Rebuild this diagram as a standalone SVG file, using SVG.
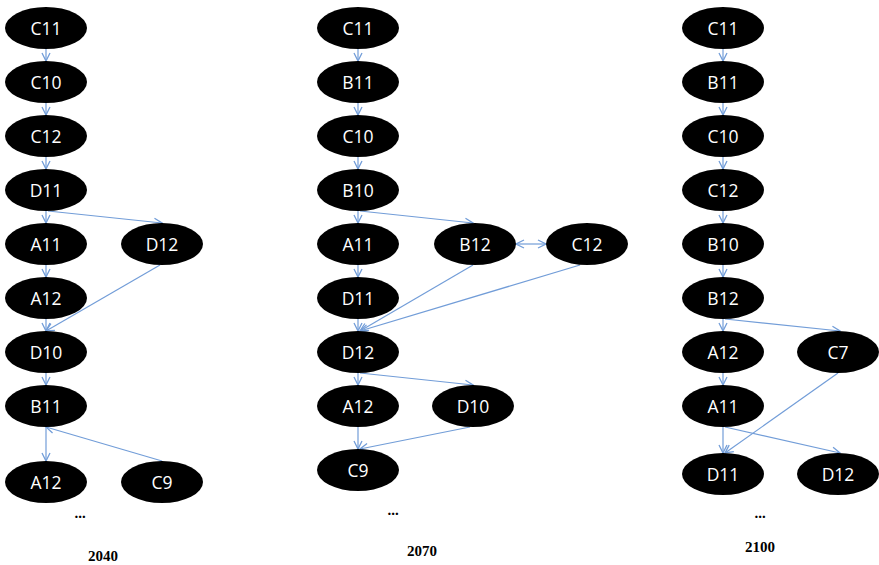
<svg xmlns="http://www.w3.org/2000/svg" width="879" height="565" viewBox="0 0 879 565">
  <style>
    .node ellipse { fill: #000; }
    .node text { fill: #fff; font-family: "Open Sans", "Liberation Sans", sans-serif; font-size: 17.5px; text-anchor: middle; dominant-baseline: central; }
    .edges line { stroke: #729dd8; stroke-width: 1.2; fill: none; marker-end: url(#arrow); }
    .edges line.both { marker-start: url(#arrowStart); }
    .label { font-family: "Liberation Serif", serif; font-weight: bold; font-size: 15px; text-anchor: middle; fill: #000; }
  </style>
  <defs>
    <marker id="arrow" viewBox="0 0 10 10" refX="9" refY="5" markerWidth="10" markerHeight="10" markerUnits="userSpaceOnUse" orient="auto">
      <path d="M1,1 L9,5 L1,9" fill="none" stroke="#729dd8" stroke-width="1.3"/>
    </marker>
    <marker id="arrowStart" viewBox="0 0 10 10" refX="1" refY="5" markerWidth="10" markerHeight="10" markerUnits="userSpaceOnUse" orient="auto">
      <path d="M9,1 L1,5 L9,9" fill="none" stroke="#729dd8" stroke-width="1.3"/>
    </marker>
  </defs>
  <rect width="879" height="565" fill="#fff"/>

  <!-- connectors -->
  <g id="edges" class="edges">
    <!-- 2040 -->
    <line x1="46" y1="49" x2="46" y2="61"/>
    <line x1="46" y1="103" x2="46" y2="115"/>
    <line x1="46" y1="157" x2="46" y2="169"/>
    <line x1="46" y1="211" x2="46" y2="223"/>
    <line x1="46" y1="265" x2="46" y2="277"/>
    <line x1="46" y1="319" x2="46" y2="331"/>
    <line x1="46" y1="373" x2="46" y2="385"/>
    <line x1="46" y1="427" x2="46" y2="461"/>
    <line x1="48" y1="211" x2="162" y2="223"/>
    <line x1="160" y1="265" x2="46" y2="331"/>
    <line x1="162" y1="461" x2="46" y2="427"/>
    <!-- 2070 -->
    <line x1="358" y1="49" x2="358" y2="61"/>
    <line x1="358" y1="103" x2="358" y2="115"/>
    <line x1="358" y1="157" x2="358" y2="169"/>
    <line x1="358" y1="211" x2="358" y2="223"/>
    <line x1="358" y1="265" x2="358" y2="277"/>
    <line x1="358" y1="319" x2="358" y2="331"/>
    <line x1="358" y1="373" x2="358" y2="385"/>
    <line x1="358" y1="427" x2="358" y2="449"/>
    <line x1="360" y1="211" x2="473" y2="223"/>
    <line class="both" x1="516" y1="244" x2="546" y2="244"/>
    <line x1="473" y1="265" x2="360" y2="331"/>
    <line x1="580" y1="265" x2="360" y2="331"/>
    <line x1="360" y1="373" x2="473" y2="385"/>
    <line x1="470" y1="427" x2="360" y2="449"/>
    <!-- 2100 -->
    <line x1="723" y1="49" x2="723" y2="61"/>
    <line x1="723" y1="103" x2="723" y2="115"/>
    <line x1="723" y1="157" x2="723" y2="169"/>
    <line x1="723" y1="211" x2="723" y2="223"/>
    <line x1="723" y1="265" x2="723" y2="277"/>
    <line x1="723" y1="319" x2="723" y2="331"/>
    <line x1="723" y1="373" x2="723" y2="385"/>
    <line x1="723" y1="427" x2="723" y2="453"/>
    <line x1="725" y1="319" x2="840" y2="331"/>
    <line x1="725" y1="427" x2="840" y2="453"/>
    <line x1="838" y1="373" x2="725" y2="453"/>
  </g>

  <!-- 2040 nodes -->
  <g id="n2040_C11" class="node"><ellipse cx="46" cy="28" rx="41" ry="21"/><text x="46" y="28">C11</text></g>
  <g id="n2040_C10" class="node"><ellipse cx="46" cy="82" rx="41" ry="21"/><text x="46" y="82">C10</text></g>
  <g id="n2040_C12" class="node"><ellipse cx="46" cy="136" rx="41" ry="21"/><text x="46" y="136">C12</text></g>
  <g id="n2040_D11" class="node"><ellipse cx="46" cy="190" rx="41" ry="21"/><text x="46" y="190">D11</text></g>
  <g id="n2040_A11" class="node"><ellipse cx="46" cy="244" rx="41" ry="21"/><text x="46" y="244">A11</text></g>
  <g id="n2040_D12" class="node"><ellipse cx="162" cy="244" rx="41" ry="21"/><text x="162" y="244">D12</text></g>
  <g id="n2040_A12" class="node"><ellipse cx="46" cy="298" rx="41" ry="21"/><text x="46" y="298">A12</text></g>
  <g id="n2040_D10" class="node"><ellipse cx="46" cy="352" rx="41" ry="21"/><text x="46" y="352">D10</text></g>
  <g id="n2040_B11" class="node"><ellipse cx="46" cy="406" rx="41" ry="21"/><text x="46" y="406">B11</text></g>
  <g id="n2040_A12b" class="node"><ellipse cx="46" cy="482" rx="41" ry="21"/><text x="46" y="482">A12</text></g>
  <g id="n2040_C9" class="node"><ellipse cx="162" cy="482" rx="41" ry="21"/><text x="162" y="482">C9</text></g>

  <!-- 2070 nodes -->
  <g id="n2070_C11" class="node"><ellipse cx="358" cy="28" rx="41" ry="21"/><text x="358" y="28">C11</text></g>
  <g id="n2070_B11" class="node"><ellipse cx="358" cy="82" rx="41" ry="21"/><text x="358" y="82">B11</text></g>
  <g id="n2070_C10" class="node"><ellipse cx="358" cy="136" rx="41" ry="21"/><text x="358" y="136">C10</text></g>
  <g id="n2070_B10" class="node"><ellipse cx="358" cy="190" rx="41" ry="21"/><text x="358" y="190">B10</text></g>
  <g id="n2070_A11" class="node"><ellipse cx="358" cy="244" rx="41" ry="21"/><text x="358" y="244">A11</text></g>
  <g id="n2070_B12" class="node"><ellipse cx="475" cy="244" rx="41" ry="21"/><text x="475" y="244">B12</text></g>
  <g id="n2070_C12" class="node"><ellipse cx="587" cy="244" rx="41" ry="21"/><text x="587" y="244">C12</text></g>
  <g id="n2070_D11" class="node"><ellipse cx="358" cy="298" rx="41" ry="21"/><text x="358" y="298">D11</text></g>
  <g id="n2070_D12" class="node"><ellipse cx="358" cy="352" rx="41" ry="21"/><text x="358" y="352">D12</text></g>
  <g id="n2070_A12" class="node"><ellipse cx="358" cy="406" rx="41" ry="21"/><text x="358" y="406">A12</text></g>
  <g id="n2070_D10" class="node"><ellipse cx="473" cy="406" rx="41" ry="21"/><text x="473" y="406">D10</text></g>
  <g id="n2070_C9" class="node"><ellipse cx="358" cy="470" rx="41" ry="21"/><text x="358" y="470">C9</text></g>

  <!-- 2100 nodes -->
  <g id="n2100_C11" class="node"><ellipse cx="723" cy="28" rx="41" ry="21"/><text x="723" y="28">C11</text></g>
  <g id="n2100_B11" class="node"><ellipse cx="723" cy="82" rx="41" ry="21"/><text x="723" y="82">B11</text></g>
  <g id="n2100_C10" class="node"><ellipse cx="723" cy="136" rx="41" ry="21"/><text x="723" y="136">C10</text></g>
  <g id="n2100_C12" class="node"><ellipse cx="723" cy="190" rx="41" ry="21"/><text x="723" y="190">C12</text></g>
  <g id="n2100_B10" class="node"><ellipse cx="723" cy="244" rx="41" ry="21"/><text x="723" y="244">B10</text></g>
  <g id="n2100_B12" class="node"><ellipse cx="723" cy="298" rx="41" ry="21"/><text x="723" y="298">B12</text></g>
  <g id="n2100_A12" class="node"><ellipse cx="723" cy="352" rx="41" ry="21"/><text x="723" y="352">A12</text></g>
  <g id="n2100_C7" class="node"><ellipse cx="838" cy="352" rx="41" ry="21"/><text x="838" y="352">C7</text></g>
  <g id="n2100_A11" class="node"><ellipse cx="723" cy="406" rx="41" ry="21"/><text x="723" y="406">A11</text></g>
  <g id="n2100_D11" class="node"><ellipse cx="723" cy="474" rx="41" ry="21"/><text x="723" y="474">D11</text></g>
  <g id="n2100_D12" class="node"><ellipse cx="838" cy="474" rx="41" ry="21"/><text x="838" y="474">D12</text></g>

  <!-- ellipses and year captions -->
  <text class="label" x="80" y="518">...</text>
  <text class="label" x="393" y="515">...</text>
  <text class="label" x="760" y="518">...</text>
  <text class="label" x="103" y="561">2040</text>
  <text class="label" x="422" y="556">2070</text>
  <text class="label" x="760" y="552">2100</text>
</svg>
